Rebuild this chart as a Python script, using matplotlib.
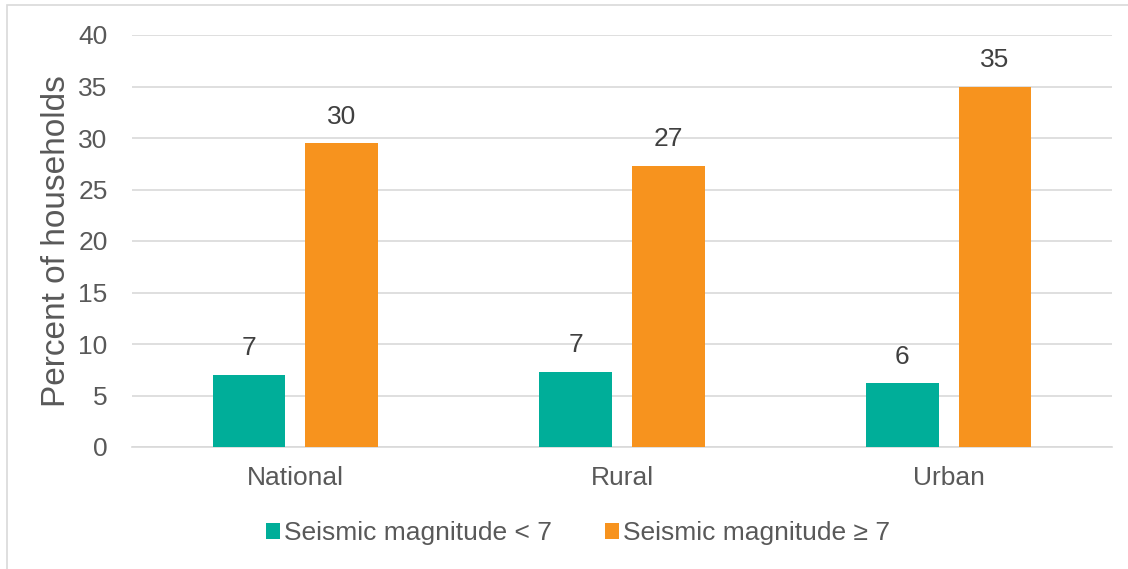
import matplotlib
matplotlib.use("Agg")
import matplotlib.pyplot as plt
import numpy as np
from matplotlib.patches import Rectangle

categories = ["National", "Rural", "Urban"]
series_names = ["Seismic magnitude < 7", "Seismic magnitude \u2265 7"]
below7 = [7.0, 7.3, 6.2]
above7 = [29.5, 27.3, 35.0]
yticks = [0, 5, 10, 15, 20, 25, 30, 35, 40]

colors = ["#00AE99", "#F7931E"]
plt.rcParams['font.family'] = ['Liberation Sans', 'DejaVu Sans']

W, H = 1128, 569
FS = 19
fig = plt.figure(figsize=(W/100, H/100), dpi=100)
ax = fig.add_axes([132/W, 1-447/H, (1112-132)/W, (447-35)/H])

fig.patches.append(Rectangle((7/W, -0.1), 1.2, 1.1-5/H, transform=fig.transFigure,
                             fill=False, edgecolor="#d9d9d9", lw=1.2))

x = np.arange(len(categories))
bw = 0.223
off = 0.142
for vals, dx, c, name in [(below7, -off, colors[0], series_names[0]),
                          (above7, off, colors[1], series_names[1])]:
    bars = ax.bar(x + dx, vals, bw, color=c, label=name, zorder=3)
    for b, v in zip(bars, vals):
        ax.text(b.get_x() + b.get_width()/2, v + 1.4, f"{v:.0f}",
                ha="center", va="bottom", fontsize=FS, color="#404040")

ax.set_xlim(-0.5, 2.5)
ax.set_ylim(0, 40)
ax.set_yticks(yticks)
ax.set_xticks(x)
ax.set_xticklabels(categories)
ax.grid(axis="y", color="#d9d9d9", lw=1.2, zorder=0)
for s in ["top", "right", "left"]:
    ax.spines[s].set_visible(False)
ax.spines["bottom"].set_color("#d9d9d9")
ax.spines["bottom"].set_linewidth(1.2)
ax.tick_params(axis="both", length=0, labelsize=FS, labelcolor="#595959")
ax.tick_params(axis="x", pad=14)
ax.tick_params(axis="y", pad=17.5)
fig.text(57/W, 1-241/H, "Percent of households", rotation=90, ha="center", va="center",
         fontsize=24, color="#595959")

leg = fig.legend(loc="center", bbox_to_anchor=(578/W, 1-533/H), ncol=2, frameon=False,
                 fontsize=FS, labelcolor="#595959", handlelength=0.55, handleheight=0.55,
                 handletextpad=0.15, columnspacing=2.0)

fig.savefig("out.png", dpi=100)
